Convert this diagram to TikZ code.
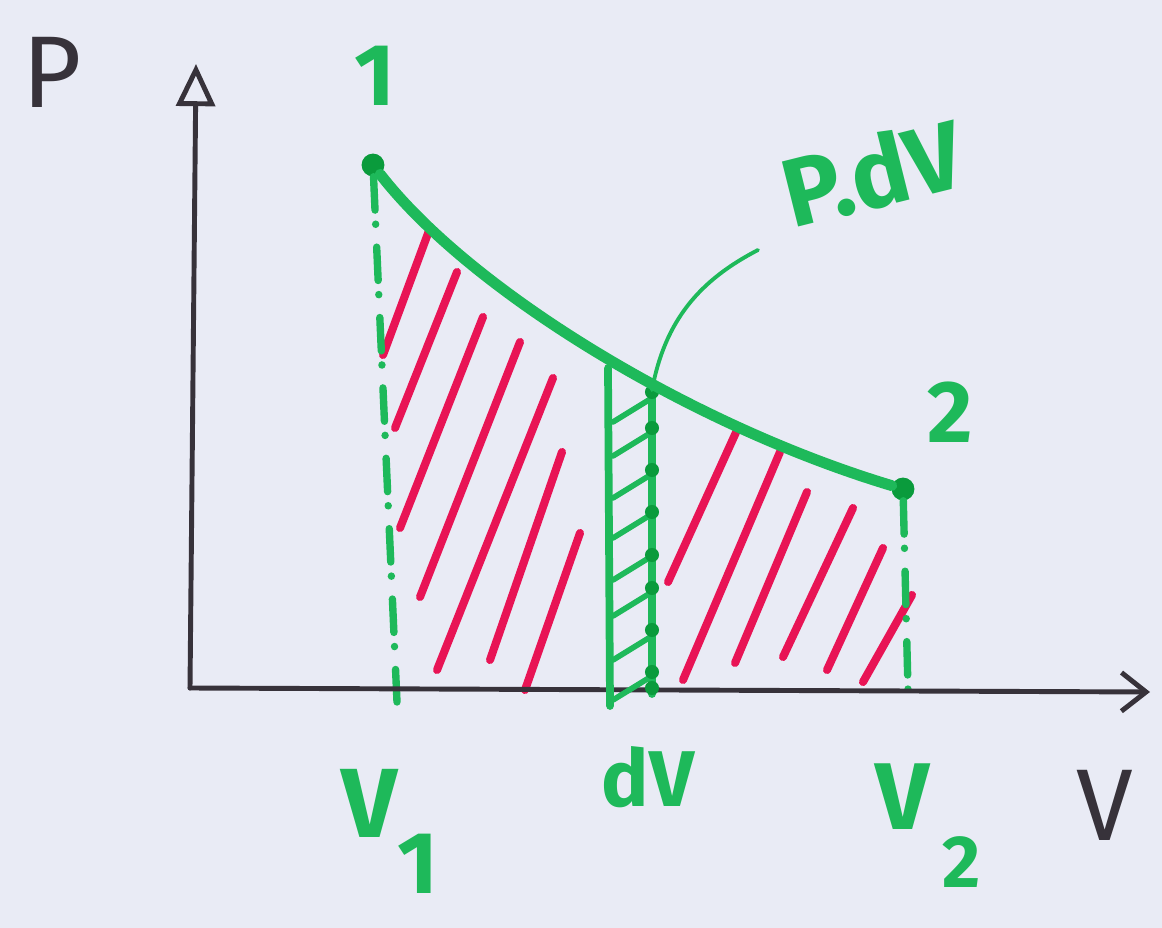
\documentclass[tikz,border=0pt]{standalone}
\usepackage{fontspec}
\setmainfont{Fira Sans}
\usetikzlibrary{arrows.meta}
\definecolor{paper}{RGB}{233,235,245}
\definecolor{marker}{RGB}{30,185,90}
\definecolor{dotgreen}{RGB}{10,155,60}
\definecolor{hatch}{RGB}{232,20,85}
\definecolor{ink}{RGB}{55,50,58}

\begin{document}
\begin{tikzpicture}[
    x=0.02cm, y=-0.02cm,
    line cap=round, line join=round,
    axis/.style={draw=ink, line width=2.8pt},
    curve/.style={draw=marker, line width=6.2pt},
    bound/.style={draw=marker, line width=4.2pt, dash pattern=on 19pt off 8pt on 0.1pt off 13pt},
    strip/.style={draw=marker, line width=4.4pt},
    stripline/.style={draw=marker, line width=3.2pt},
    leader/.style={draw=marker, line width=2.2pt},
    redhatch/.style={draw=hatch, line width=4.6pt},
    state/.style={circle, fill=dotgreen, inner sep=0pt, minimum size=13pt},
    glabel/.style={text=marker, font=\fontsize{50}{50}\selectfont\bfseries, inner sep=0pt},
    klabel/.style={text=ink, font=\fontsize{58}{58}\selectfont, inner sep=0pt},
]
\fill[paper] (0,0) rectangle (1162,928);
\useasboundingbox (0,0) rectangle (1162,928);

\coordinate (O) at (190,688);
\coordinate (ytip) at (196,64);
\coordinate (xtip) at (1150,692);
\coordinate (v1) at (397,702);
\coordinate (v2) at (908,690);
\coordinate (sltop) at (608,368);
\coordinate (slbot) at (610,706);
\coordinate (srtop) at (652,390);
\coordinate (srbot) at (652,694);
\coordinate (lead) at (758,250);

\node[state] (p1) at (373,165) {};
\node[state] (p2) at (903,489) {};

\foreach \xa/\ya/\xb/\yb in {430/228/383/355, 457/272/395/428, 483/317/400/528,
    520/342/420/597, 553/378/437/670, 562/452/490/660, 580/533/525/690,
    738/428/668/582, 780/452/683/680, 807/492/735/663, 853/508/783/657,
    883/548/827/670, 912/595/863/682}
  \draw[redhatch] (\xa,\ya) -- (\xb,\yb);

\draw[bound] (p1) -- (v1);
\draw[bound] (p2) -- (v2);

\draw[axis, -{Triangle[open, length=24pt, width=22pt]}] (O) -- (ytip);
\draw[axis, -{Straight Barb[length=14pt, width=22pt]}] (O) -- (xtip);

\draw[strip] (sltop) -- (slbot);
\draw[strip] (srtop) -- (srbot);
\foreach \y in {398,432,474,514,556,592,636,676}
  \draw[stripline] (652,\y) -- (613,\y+24);
\foreach \y in {392,428,470,512,555,588,630,672,688}
  \fill[dotgreen] (652,\y) circle (4pt);

\draw[curve] (p1) .. controls (470,290) and (690,425) .. (p2);
\draw[leader] (srtop) .. controls (665,320) and (700,280) .. (lead);

\node[klabel] (lp) at (52,72) {P};
\node[klabel] (lv) at (1105,805) {V};
\node[glabel] (l1) at (375,76) {1};
\node[glabel] (l2) at (950,412) {2};
\node[glabel, font=\fontsize{55}{55}\selectfont\bfseries, rotate=14] (pdv) at (872,172) {P.dV};
\node[glabel, font=\fontsize{56}{56}\selectfont\bfseries] (lv1) at (370,803) {V};
\node[glabel, font=\fontsize{50}{50}\selectfont\bfseries] (sv1) at (418,864) {1};
\node[glabel, font=\fontsize{45}{45}\selectfont\bfseries] (ldv) at (648,777) {dV};
\node[glabel, font=\fontsize{54}{54}\selectfont\bfseries] (lv2) at (903,797) {V};
\node[glabel, font=\fontsize{42}{42}\selectfont\bfseries] (sv2) at (962,862) {2};
\end{tikzpicture}
\end{document}
